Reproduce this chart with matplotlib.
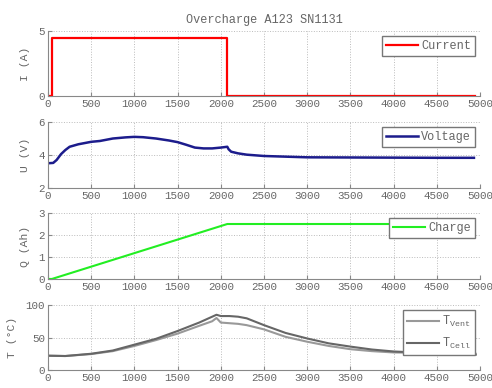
import matplotlib
matplotlib.use("Agg")
import matplotlib.pyplot as plt

# Strom (A)
t_cur = [0, 45, 45, 2075, 2075, 4940]
i_cur = [0, 0, 4.45, 4.45, 0, 0]

# Spannung (V)
t_volt = [0, 60, 100, 150, 200, 250, 350, 500, 600, 750, 900, 1000, 1100, 1250,
          1400, 1500, 1600, 1700, 1800, 1900, 2000, 2075, 2090, 2120, 2200, 2300,
          2500, 2750, 3000, 3500, 4000, 4500, 4930]
u_volt = [3.5, 3.52, 3.7, 4.05, 4.3, 4.5, 4.65, 4.8, 4.85, 5.0, 5.07, 5.1, 5.08, 5.0,
          4.88, 4.78, 4.62, 4.45, 4.4, 4.4, 4.45, 4.5, 4.35, 4.2, 4.1, 4.02,
          3.94, 3.9, 3.86, 3.85, 3.84, 3.83, 3.83]

# Ladung (Ah)
t_q = [0, 45, 2075, 4940]
q = [0, 0, 2.5, 2.5]

# Temperaturen (°C)
t_temp = [0, 200, 500, 750, 1000, 1250, 1500, 1750, 1900, 1950, 2000, 2100, 2200,
          2300, 2500, 2750, 3000, 3250, 3500, 3750, 4000, 4250, 4500, 4750, 4950]
t_cell = [22, 21.5, 25, 30, 39, 48, 60, 73, 82, 85, 83, 83, 82,
          79.5, 69, 57, 48.5, 41, 36, 31.5, 28.5, 27, 25.5, 24.5, 23.5]
t_vent = [22, 21.5, 24.5, 29, 37, 46, 56, 68, 75, 80, 73, 72, 71,
          69, 62.5, 51, 43.5, 37, 32, 29, 27, 26.5, 26.5, 25.5, 25]

xticks = list(range(0, 5001, 500))

font = 'Liberation Mono'
txt = '#666666'
plt.rcParams['font.family'] = font
plt.rcParams['font.size'] = 7

fig = plt.figure(figsize=(4.92, 3.88), dpi=100)

pos = [
    [0.0976, 0.7526, 0.878, 0.1675],
    [0.0976, 0.5155, 0.878, 0.170],
    [0.0976, 0.281, 0.878, 0.170],
    [0.0976, 0.0464, 0.878, 0.1675],
]
axs = [fig.add_axes(p) for p in pos]

def style(ax, ylim, yticks, ylabel):
    ax.set_xlim(0, 5000)
    ax.set_ylim(*ylim)
    ax.set_xticks(xticks)
    ax.set_yticks(yticks)
    ax.grid(True, linestyle=':', color='#bbbbbb', linewidth=0.7)
    for s in ['top', 'right']:
        ax.spines[s].set_visible(False)
    for s in ['left', 'bottom']:
        ax.spines[s].set_color('#888888')
    ax.tick_params(direction='in', length=3, colors='#888888', labelcolor=txt,
                   labelsize=7.8, pad=2)
    ax.set_ylabel(ylabel, color=txt, fontsize=8.2, labelpad=6)

def leg(ax, **kw):
    lg = ax.legend(loc='upper right', fontsize=8.6, fancybox=False, framealpha=1,
                   edgecolor='#777777', borderpad=0.3, handlelength=2.7,
                   handletextpad=0.25, borderaxespad=0.45, labelcolor=txt, **kw)
    lg.get_frame().set_linewidth(1.0)

ax = axs[0]
ax.plot(t_cur, i_cur, color='#ff0000', linewidth=1.6, label='Current')
style(ax, (0, 5), [0, 5], 'I (A)')
ax.set_title('Overcharge A123 SN1131', color=txt, fontsize=8.6, pad=6)
leg(ax)

ax = axs[1]
ax.plot(t_volt, u_volt, color='#1c1c8c', linewidth=1.8, label='Voltage')
style(ax, (2, 6), [2, 4, 6], 'U (V)')
leg(ax)

ax = axs[2]
ax.plot(t_q, q, color='#22ee22', linewidth=1.5, label='Charge')
style(ax, (0, 3), [0, 1, 2, 3], 'Q (Ah)')
leg(ax)

ax = axs[3]
ax.plot(t_temp, t_vent, color='#999999', linewidth=1.5, label=r'T$_\mathregular{Vent}$')
ax.plot(t_temp, t_cell, color='#666666', linewidth=1.5, label=r'T$_\mathregular{Cell}$')
style(ax, (0, 100), [0, 50, 100], 'T (°C)')
leg(ax, labelspacing=0.6)

fig.savefig('out.png', dpi=100)
